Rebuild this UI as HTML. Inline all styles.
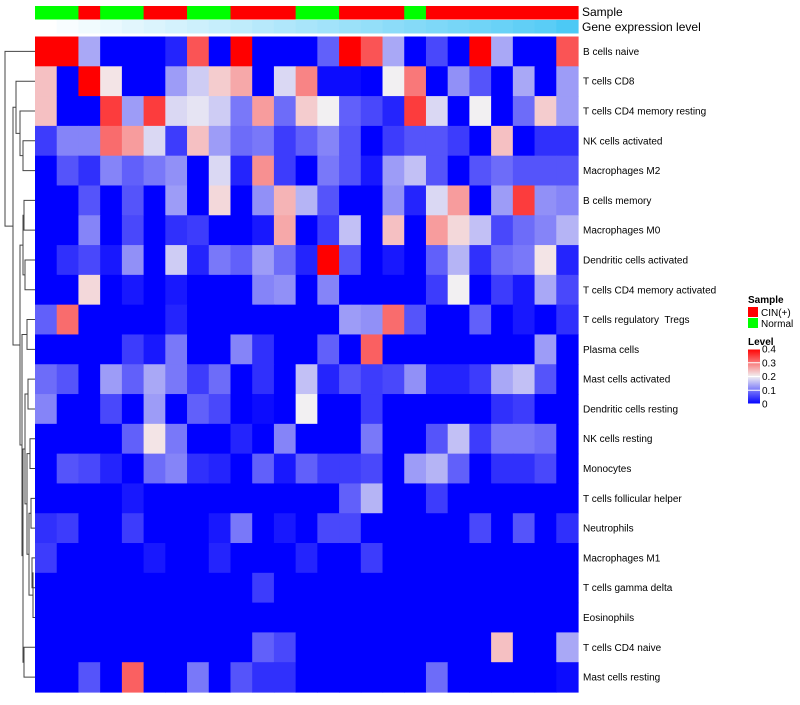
<!DOCTYPE html>
<html><head><meta charset="utf-8"><style>
body{margin:0;background:#fff;font-family:"Liberation Sans",sans-serif}
svg text{font-family:"Liberation Sans",sans-serif}
</style></head><body>
<svg id="chart" width="800" height="700" xmlns="http://www.w3.org/2000/svg">
<g id="dendro" stroke="#444" fill="none" stroke-width="1"></g>
<g id="annot"></g>
<g id="cells"></g>
<g id="labels"></g>
<text x="582" y="16" font-size="12">Sample</text>
<text x="582" y="31" font-size="12">Gene expression level</text>
<g>
<text x="748" y="303" font-size="10" font-weight="bold">Sample</text>
<rect x="748" y="307" width="10" height="10" fill="#ff0000"/>
<text x="761" y="316" font-size="10">CIN(+)</text>
<rect x="748" y="318" width="10" height="10" fill="#00ff00"/>
<text x="761" y="327" font-size="10">Normal</text>
<text x="748" y="345" font-size="10" font-weight="bold">Level</text>
<defs><linearGradient id="lg" x1="0" y1="0" x2="0" y2="1"><stop offset="0" stop-color="#ff0000"/><stop offset="0.5" stop-color="#f2f0f2"/><stop offset="1" stop-color="#0000ff"/></linearGradient></defs>
<rect x="748" y="349" width="12" height="55" fill="url(#lg)"/>
<g id="cbticks"></g>
</g>
</svg>
<script>
const rowNames=["B cells naive","T cells CD8","T cells CD4 memory resting","NK cells activated","Macrophages M2","B cells memory","Macrophages M0","Dendritic cells activated","T cells CD4 memory activated","T cells regulatory  Tregs","Plasma cells","Mast cells activated","Dendritic cells resting","NK cells resting","Monocytes","T cells follicular helper","Neutrophils","Macrophages M1","T cells gamma delta","Eosinophils","T cells CD4 naive","Mast cells resting"];
const sampleGroup=["N","N","C","N","N","C","C","N","N","C","C","C","N","N","C","C","C","N","C","C","C","C","C","C","C"];
const geneLevel=[0,0.04,0.08,0.12,0.16,0.2,0.24,0.28,0.32,0.36,0.4,0.44,0.48,0.52,0.56,0.6,0.64,0.68,0.72,0.76,0.8,0.84,0.88,0.92,1];
const legendTicks=[0,0.1,0.2,0.3,0.4];
const values=[
[.4,.4,.14,0,0,0,.03,.33,0,.4,0,0,0,.08,.4,.33,.14,0,.06,0,.4,.14,0,0,.33],
[.24,0,.4,.21,0,0,.13,.17,.23,.26,0,.18,.29,.01,.01,0,.2,.3,0,.12,.07,0,.14,0,.13],
[.24,0,0,.35,.13,.35,.18,.19,.17,.1,.27,.09,.23,.2,.08,.06,.03,.35,.18,0,.2,0,.09,.23,.13],
[.05,.11,.11,.31,.27,.18,.05,.24,.13,.09,.1,.05,.08,.11,.07,0,.05,.07,.07,.05,0,.24,0,.04,.04],
[0,.07,.04,.11,.08,.1,.12,0,.18,.03,.28,.05,0,.1,.07,.02,.13,.16,.07,0,.07,.09,.07,.07,.07],
[0,0,.07,0,.07,0,.13,0,.22,0,.12,.25,.15,.07,0,0,.12,.03,.18,.27,0,.13,.35,.12,.11],
[0,0,.11,0,.06,0,.04,.05,0,0,.02,.26,0,.05,.16,0,.24,0,.27,.22,.16,.06,.09,.11,.15],
[0,.04,.06,.02,.12,0,.17,.03,.1,.08,.13,.09,.03,.4,.07,0,.02,0,.08,.15,.04,.09,.1,.21,.03],
[0,0,.22,0,.02,0,.02,0,0,0,.11,.12,0,.11,0,0,0,0,.05,.2,0,.05,.02,.14,.06],
[.08,.31,0,0,0,0,.03,0,0,0,0,0,0,0,.13,.12,.31,.07,0,0,.08,0,.02,0,.04],
[0,0,0,0,.05,.02,.1,0,0,.11,.04,0,0,.08,0,.32,0,0,0,0,0,0,0,.13,0],
[.09,.07,0,.13,.08,.14,.1,.05,.09,0,.04,0,.16,.03,.07,.05,.06,.12,.03,.03,.05,.14,.16,.07,0],
[.11,0,0,.06,0,.13,0,.08,.06,0,.01,0,.2,0,0,.05,0,0,0,0,0,.04,.05,0,0],
[0,0,0,0,.08,.21,.1,0,0,.03,0,.11,0,0,0,.1,0,0,.07,.16,.05,.1,.1,.09,0],
[0,.07,.06,.03,0,.09,.11,.04,.03,0,.08,.02,.08,.05,.05,.06,0,.13,.15,.08,0,.04,.04,.06,0],
[0,0,0,0,.02,0,0,0,0,0,0,0,0,0,.08,.15,0,0,.05,0,0,0,0,0,0],
[.04,.05,0,0,.05,0,0,0,.02,.1,0,.02,0,.06,.06,0,0,0,0,0,.06,0,.07,0,.04],
[.05,0,0,0,0,.02,0,0,.03,0,0,0,.03,0,0,.05,0,0,0,0,0,0,0,0,0],
[0,0,0,0,0,0,0,0,0,0,.05,0,0,0,0,0,0,0,0,0,0,0,0,0,0],
[0,0,0,0,0,0,0,0,0,0,0,0,0,0,0,0,0,0,0,0,0,0,0,0,0],
[0,0,0,0,0,0,0,0,0,0,.08,.06,0,0,0,0,0,0,0,0,0,.24,0,0,.14],
[0,0,.07,0,.32,0,0,.1,0,.07,.04,.04,0,0,0,0,0,0,.09,0,0,0,0,0,.01]];
const X0=35,X1=578,Y0=36.5,Y1=692;
const nc=sampleGroup.length,nr=rowNames.length;
const cw=(X1-X0)/nc,rh=(Y1-Y0)/nr;
const xPos=c=>X0+c*cw, yPos=r=>Y0+r*rh;
function col(v){const t=Math.max(0,Math.min(1,v/0.4));
 let r,g,b;
 if(t<0.5){const s=t/0.5;r=Math.round(242*s);g=Math.round(240*s);b=Math.round(255-13*s);}
 else{const s=(t-0.5)/0.5;r=Math.round(242+13*s);g=Math.round(240*(1-s));b=Math.round(242*(1-s));}
 return `rgb(${r},${g},${b})`;}
const NS="http://www.w3.org/2000/svg";
// dendrogram: [name, x, childA, childB]; leaves are row indices
const tree=[["A",24,5,6],["B",25,7,8],["C",23,"A","B"],["J",28,11,12],["L",30,13,14],["M",31,15,16],["N",32,17,18],["O",33,19,"N"],["P",29,"M","O"],["Q",27,"L","P"],["R",25,"J","Q"],["S",24,20,21],["T",23,"R","S"],["H",27,9,10],["U",22,"H","T"],["V",20,"C","U"],["W",23,3,4],["X",20,2,"W"],["Y",16,1,"X"],["Z",13,"Y","V"],["root",5,0,"Z"]];
const nodeInfo={};
const dg=document.getElementById('dendro');
function pos(k){return typeof k==="number"?{x:X0,y:yPos(k)+rh/2}:nodeInfo[k];}
tree.forEach(([n,x,a,b])=>{const pa=pos(a),pb=pos(b);
 const p=document.createElementNS(NS,'path');
 p.setAttribute('d',`M${pa.x},${pa.y} H${x} V${pb.y} H${pb.x}`);
 
 
 dg.appendChild(p);
 nodeInfo[n]={x:x,y:(pa.y+pb.y)/2};});
const cells=document.getElementById('cells');
for(let r=0;r<nr;r++)for(let c=0;c<nc;c++){
 const e=document.createElementNS(NS,'rect');
 e.setAttribute('x',xPos(c));e.setAttribute('y',yPos(r));
 e.setAttribute('width',cw+0.6);e.setAttribute('height',rh+0.6);
 e.setAttribute('fill',col(values[r][c]));
 
 
 cells.appendChild(e);}
const an=document.getElementById('annot');
for(let c=0;c<nc;c++){
 const a=document.createElementNS(NS,'rect');
 a.setAttribute('x',xPos(c));a.setAttribute('y',6);a.setAttribute('width',cw+0.6);a.setAttribute('height',13.5);
 a.setAttribute('fill',sampleGroup[c]=="C"?"#ff0000":"#00ff00");
 
 
 an.appendChild(a);
 const g=document.createElementNS(NS,'rect');
 g.setAttribute('x',xPos(c));g.setAttribute('y',20);g.setAttribute('width',cw+0.6);g.setAttribute('height',13.5);
 const t=geneLevel[c];
 g.setAttribute('fill',`rgb(${Math.round(255-179*t)},${Math.round(255-54*t)},${Math.round(255-10*t)})`);
 
 
 an.appendChild(g);}
const lb=document.getElementById('labels');
rowNames.forEach((n,r)=>{const t=document.createElementNS(NS,'text');
 t.setAttribute('x',583);t.setAttribute('y',yPos(r)+rh/2+3.5);t.setAttribute('font-size','10');
 t.setAttribute('style','white-space:pre');
 t.textContent=n;
 
 
 lb.appendChild(t);});
const cb=document.getElementById('cbticks');
legendTicks.forEach(v=>{const y=404-v/0.4*55;
 const t=document.createElementNS(NS,'text');
 t.setAttribute('x',762);t.setAttribute('y',y+3.5);t.setAttribute('font-size','10');t.textContent=v;
 
 
 cb.appendChild(t);
 const l=document.createElementNS(NS,'line');
 l.setAttribute('x1',748);l.setAttribute('x2',760);l.setAttribute('y1',y);l.setAttribute('y2',y);l.setAttribute('stroke','#fff');
 
 
 cb.appendChild(l);});
</script>
</body></html>
